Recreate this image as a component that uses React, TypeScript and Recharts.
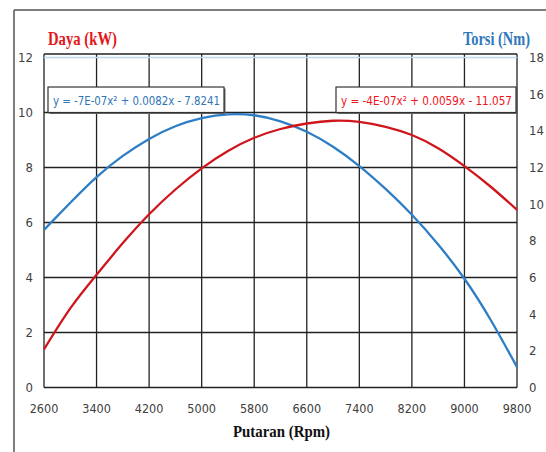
import React from "react";
import { LineChart, Line, XAxis, YAxis, CartesianGrid, ReferenceLine } from "recharts";

const RPM = [2600, 3000, 3400, 3800, 4200, 4600, 5000, 5400, 5800, 6200, 6600, 7000, 7400, 7800, 8200, 8600, 9000, 9400, 9800];
const POWER_KW = [1.39, 2.88, 4.1, 5.25, 6.3, 7.2, 7.97, 8.6, 9.08, 9.4, 9.6, 9.7, 9.66, 9.48, 9.18, 8.7, 8.05, 7.3, 6.46];
const TORQUE_NM = [8.6, 10.08, 11.48, 12.63, 13.56, 14.25, 14.69, 14.9, 14.85, 14.52, 13.95, 13.13, 12.08, 10.83, 9.42, 7.8, 5.93, 3.68, 1.11];

const X_TICKS = [2600, 3400, 4200, 5000, 5800, 6600, 7400, 8200, 9000, 9800];
const KW_TICKS = [0, 2, 4, 6, 8, 10, 12];
const NM_TICKS = [0, 2, 4, 6, 8, 10, 12, 14, 16, 18];
const KW_TOP = 12.127;
const NM_TOP = 18.19;

const LEFT_TITLE = "Daya (kW)";
const RIGHT_TITLE = "Torsi (Nm)";
const X_TITLE = "Putaran (Rpm)";
const EQ_TORQUE = "y = -7E-07x² + 0.0082x - 7.8241";
const EQ_POWER = "y = -4E-07x² + 0.0059x - 11.057";

const data = RPM.map((r, i) => ({ rpm: r, power: POWER_KW[i], torque: TORQUE_NM[i] }));

const TICK_FONT = "'Liberation Sans Narrow', 'DejaVu Sans Condensed', 'Liberation Sans', sans-serif";
const SERIF = "'Liberation Serif', 'DejaVu Serif', serif";
const RED_LINE = "#D0161D";
const BLUE_LINE = "#2E7EC5";

const XTick = (p: any) => (
  <text x={p.x} y={p.y + 21} textAnchor="middle" dominantBaseline="central" fontFamily={TICK_FONT} fontSize={12.5} fill="#404040">
    {p.payload.value}
  </text>
);
const LTick = (p: any) => (
  <text x={p.x - 11} y={p.y} textAnchor="end" dominantBaseline="central" fontFamily={TICK_FONT} fontSize={13} fill="#404040">
    {p.payload.value}
  </text>
);
const RTick = (p: any) => (
  <text x={p.x + 12} y={p.y} textAnchor="start" dominantBaseline="central" fontFamily={TICK_FONT} fontSize={13} fill="#404040">
    {p.payload.value}
  </text>
);

const EqBox = ({ x, y, w, h, label, color }: any) => (
  <g>
    <rect x={x + 1.5} y={y + 1.5} width={w} height={h} fill="#666" />
    <rect x={x} y={y} width={w} height={h} fill="#fff" stroke="#333" strokeWidth={1.2} />
    <text x={x + 5} y={y + h / 2 + 5} fontFamily={TICK_FONT} fontSize={12.5} fill={color} textLength={w - 9} lengthAdjust="spacingAndGlyphs">
      {label}
    </text>
  </g>
);

export default function App() {
  return (
    <div style={{ position: "absolute", left: 0, top: 0, width: 546, height: 452, background: "#fff" }}>
      <LineChart width={546} height={452} data={data} margin={{ top: 54, right: 0, bottom: 0, left: 0 }}>
        <CartesianGrid yAxisId="kw" stroke="#222" strokeWidth={1.3} horizontalValues={KW_TICKS.slice(0, -1)} verticalValues={X_TICKS} />
        <ReferenceLine yAxisId="kw" y={12} stroke="#BDD7EE" strokeWidth={1.5} />
        <ReferenceLine yAxisId="kw" y={KW_TOP} stroke="#222" strokeWidth={1.5} />
        <XAxis dataKey="rpm" type="number" domain={[2600, 9800]} ticks={X_TICKS} height={64.5} axisLine={false} tickLine={false} tickSize={0} tickMargin={0} tick={XTick} interval={0} />
        <YAxis yAxisId="kw" orientation="left" width={44} domain={[0, KW_TOP]} ticks={KW_TICKS} axisLine={false} tickLine={false} tickSize={0} tickMargin={0} tick={LTick} interval={0} allowDataOverflow />
        <YAxis yAxisId="nm" orientation="right" width={29} domain={[0, NM_TOP]} ticks={NM_TICKS} axisLine={false} tickLine={false} tickSize={0} tickMargin={0} tick={RTick} interval={0} allowDataOverflow />
        <Line yAxisId="nm" dataKey="torque" type="natural" stroke={BLUE_LINE} strokeWidth={2.3} dot={false} isAnimationActive={false} />
        <Line yAxisId="kw" dataKey="power" type="natural" stroke={RED_LINE} strokeWidth={2.3} dot={false} isAnimationActive={false} />
      </LineChart>
      <svg width={546} height={452} style={{ position: "absolute", left: 0, top: 0, pointerEvents: "none" }}>
        <line x1={14} y1={10} x2={546} y2={10} stroke="#555" strokeWidth={1.5} />
        <line x1={14} y1={10} x2={14} y2={452} stroke="#555" strokeWidth={1.5} />
        <text x={48} y={45} fontFamily={SERIF} fontWeight="bold" fontSize={18} fill="#E3161B" textLength={69} lengthAdjust="spacingAndGlyphs">{LEFT_TITLE}</text>
        <text x={463} y={45} fontFamily={SERIF} fontWeight="bold" fontSize={18} fill="#2F77BC" textLength={67} lengthAdjust="spacingAndGlyphs">{RIGHT_TITLE}</text>
        <text x={233} y={437} fontFamily={SERIF} fontWeight="bold" fontSize={17} fill="#111" textLength={97} lengthAdjust="spacingAndGlyphs">{X_TITLE}</text>
        <EqBox x={48} y={87} w={176} h={25.5} label={EQ_TORQUE} color="#2E75B6" />
        <EqBox x={336} y={87} w={180} h={25.5} label={EQ_POWER} color="#F0141B" />
      </svg>
    </div>
  );
}
